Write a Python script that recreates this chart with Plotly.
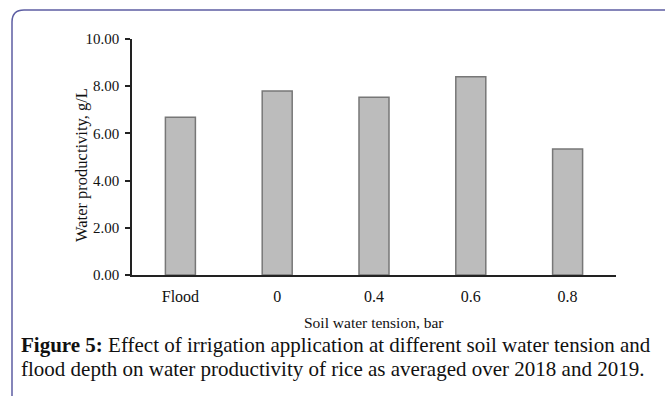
import plotly.graph_objects as go

categories = ["Flood", "0", "0.4", "0.6", "0.8"]
water_productivity = [6.68, 7.80, 7.53, 8.40, 5.34]
y_ticks = [0, 2, 4, 6, 8, 10]
y_tick_labels = ["0.00", "2.00", "4.00", "6.00", "8.00", "10.00"]

W, H = 665, 396
L, R, T, B = 132, 616, 39, 275  # plot area in pixels

def px(x):
    return (x - L) / (R - L)

def py(y):
    return (B - y) / (B - T)

serif = "Liberation Serif, Times New Roman, serif"
ink = "#111111"

fig = go.Figure()
fig.add_trace(go.Bar(
    x=categories, y=water_productivity,
    marker=dict(color="#bcbcbc", line=dict(color="#777777", width=1.5)),
    width=0.31,
))

frame_path = (f"M {px(12)},{py(400)} L {px(12)},{py(22)} "
              f"Q {px(12)},{py(10)} {px(24)},{py(10)} L {px(670)},{py(10)}")

fig.update_layout(
    width=W, height=H,
    margin=dict(l=L, r=W - R, t=T, b=H - B),
    paper_bgcolor="white", plot_bgcolor="white",
    showlegend=False,
    font=dict(family=serif, color=ink),
    xaxis=dict(
        showline=True, linecolor="#222222", linewidth=1.5,
        ticks="", showgrid=False, ticklabelstandoff=6,
        tickfont=dict(size=16, family=serif, color=ink),
    ),
    yaxis=dict(
        range=[0, 10], tickvals=y_ticks, ticktext=y_tick_labels,
        showline=True, linecolor="#222222", linewidth=1.5,
        ticks="outside", ticklen=5, tickwidth=1.5, tickcolor="#222222",
        showgrid=False, zeroline=False, ticklabelstandoff=3,
        tickfont=dict(size=15, family=serif, color=ink),
    ),
    shapes=[dict(type="path", path=frame_path, xref="paper", yref="paper",
                 line=dict(color="#5d5ea3", width=1.5), layer="above")],
    annotations=[
        dict(text="Water productivity, g/L", textangle=-90,
             xref="paper", yref="paper", x=px(81), y=py(165),
             xanchor="center", yanchor="middle", showarrow=False,
             font=dict(size=16.5, family=serif, color=ink)),
        dict(text="Soil water tension, bar",
             xref="paper", yref="paper", x=px(374), y=py(322),
             xanchor="center", yanchor="middle", showarrow=False,
             font=dict(size=15.5, family=serif, color=ink)),
        dict(text="<b>Figure 5:</b> Effect of irrigation application at different soil water tension and",
             xref="paper", yref="paper", x=px(19), y=py(345), xanchor="left", yanchor="middle",
             showarrow=False, font=dict(size=21, family=serif, color=ink)),
        dict(text="flood depth on water productivity of rice as averaged over 2018 and 2019.",
             xref="paper", yref="paper", x=px(19), y=py(369), xanchor="left", yanchor="middle",
             showarrow=False, font=dict(size=21, family=serif, color=ink)),
    ],
)

fig.write_html("out.html")
